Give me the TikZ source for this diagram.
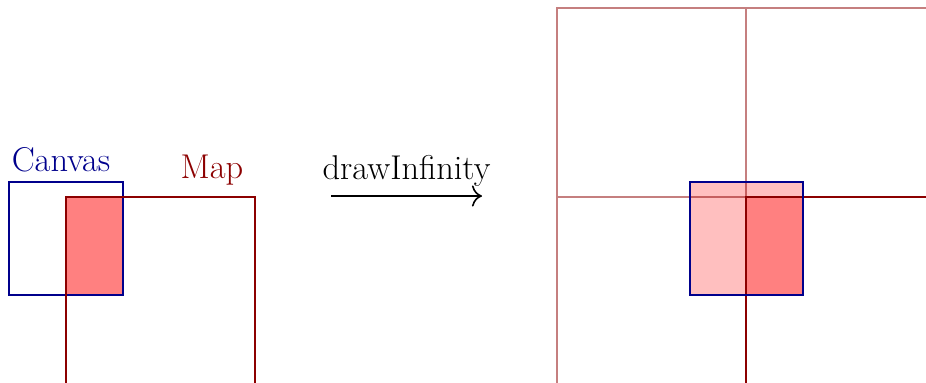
\documentclass[tikz,border=0pt]{standalone}
\usetikzlibrary{positioning}
\usetikzlibrary{arrows.meta}
\colorlet{canvascol}{blue!55!black}
\colorlet{mapcol}{red!55!black}
\begin{document}
\begin{tikzpicture}[x=0.5pt, y=-0.5pt, thick, font=\fontsize{17.2}{20}\selectfont,
        canvas/.style = {draw=canvascol},
        map/.style = {draw=mapcol},
        ghost/.style = {draw=mapcol, draw opacity=0.5}]
        \useasboundingbox (0,0) rectangle (926,382);
        \clip (0,0) rectangle (926,382);
        \fill[red!50] (66,197) rectangle (123,295);
        \draw[canvas] (9,182) rectangle (123,295);
        \draw[map] (66,197) rectangle ++(189,189);
        \node[text=canvascol, anchor=base] (cl) at (61,171) {Canvas};
        \node[text=mapcol, anchor=base] (ml) at (212,178) {Map};
        \coordinate (a) at (331,196);
        \coordinate (b) at (482,196);
        \draw[-{To[scale=1.5]}] (a) to node[above=1pt] (dl) {drawInfinity} (b);
        \fill[red!25] (690,182) rectangle (803,295);
        \fill[red!50] (746,197) rectangle (803,295);
        \draw[ghost] (557,8) rectangle ++(189,189) (746,8) rectangle ++(189,189)
            (557,197) rectangle ++(189,189);
        \draw[map] (746,197) rectangle ++(189,189);
        \draw[canvas] (690,182) rectangle (803,295);
    \end{tikzpicture}
\end{document}
